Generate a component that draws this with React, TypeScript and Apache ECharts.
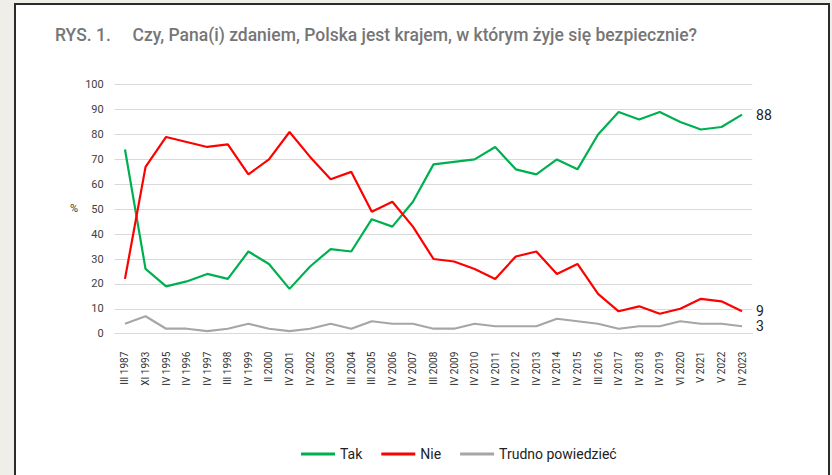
import React, { useEffect, useRef } from "react";
import * as echarts from "echarts";

const categories = [
  "III 1987", "XI 1993", "IV 1995", "IV 1996", "IV 1997", "III 1998", "IV 1999", "II 2000",
  "IV 2001", "IV 2002", "IV 2003", "III 2004", "III 2005", "IV 2006", "IV 2007", "III 2008",
  "IV 2009", "IV 2010", "IV 2011", "IV 2012", "IV 2013", "IV 2014", "IV 2015", "III 2016",
  "IV 2017", "IV 2018", "IV 2019", "VI 2020", "V 2021", "V 2022", "IV 2023",
];

const tak = [74, 26, 19, 21, 24, 22, 33, 28, 18, 27, 34, 33, 46, 43, 53, 68, 69, 70, 75, 66, 64, 70, 66, 80, 89, 86, 89, 85, 82, 83, 88];
const nie = [22, 67, 79, 77, 75, 76, 64, 70, 81, 71, 62, 65, 49, 53, 43, 30, 29, 26, 22, 31, 33, 24, 28, 16, 9, 11, 8, 10, 14, 13, 9];
const trudno = [4, 7, 2, 2, 1, 2, 4, 2, 1, 2, 4, 2, 5, 4, 4, 2, 2, 4, 3, 3, 3, 6, 5, 4, 2, 3, 3, 5, 4, 4, 3];

const seriesNames = ["Tak", "Nie", "Trudno powiedzieć"];
const seriesColors = ["#00b050", "#ff0000", "#a6a6a6"];
const titleText = "RYS. 1.     Czy, Pana(i) zdaniem, Polska jest krajem, w którym żyje się bezpiecznie?";

export default function App() {
  const ref = useRef<HTMLDivElement>(null);
  useEffect(() => {
    if (!ref.current) return;
    const chart = echarts.init(ref.current, null, { renderer: "svg" });
    const data = [tak, nie, trudno];
    chart.setOption({
      animation: false,
      backgroundColor: "#efeee9",
      textStyle: { fontFamily: "Roboto" },
      title: {
        text: titleText,
        left: 50,
        top: 21,
        textStyle: { fontFamily: "Roboto", fontSize: 17.5, fontWeight: 500, color: "#767676" },
      },
      graphic: [
        {
          type: "rect",
          z: -10,
          shape: { x: 15, y: 4, width: 814, height: 480 },
          style: { fill: "#ffffff", stroke: "#2b2b2b", lineWidth: 2 },
          silent: true,
        },
        {
          type: "text",
          x: 70,
          y: 203,
          style: { text: "%", fontSize: 11, fill: "#333333", fontFamily: "Roboto" },
        },
      ],
      legend: {
        data: seriesNames,
        bottom: 9,
        left: 296,
        icon: "rect",
        itemWidth: 34,
        itemHeight: 3,
        itemGap: 19,
        textStyle: { fontSize: 14, color: "#222222", fontFamily: "Roboto" },
      },
      grid: { left: 114.7, right: 79.7, top: 84.7, bottom: 141.3, containLabel: false },
      xAxis: {
        type: "category",
        data: categories,
        boundaryGap: true,
        axisLine: { show: true, lineStyle: { color: "#d9d9d9", width: 1 } },
        axisTick: { show: false },
        axisLabel: { rotate: 90, interval: 0, fontSize: 10, margin: 18, color: "#333333", fontFamily: "Roboto" },
      },
      yAxis: {
        type: "value",
        min: 0,
        max: 100,
        interval: 10,
        axisLine: { show: false },
        axisTick: { show: false },
        axisLabel: { fontSize: 11, color: "#404040", margin: 11, fontFamily: "Roboto" },
        splitLine: { lineStyle: { color: "#d9d9d9", width: 1 } },
      },
      series: seriesNames.map((name, i) => ({
        name,
        type: "line",
        data: data[i],
        symbol: "none",
        color: seriesColors[i],
        lineStyle: { color: seriesColors[i], width: 2.2 },
        endLabel: {
          show: true,
          formatter: "{c}",
          distance: 14,
          fontSize: 14,
          fontFamily: "Roboto",
          color: "#222222",
        },
      })),
    });
    return () => chart.dispose();
  }, []);
  return (
    <div
      ref={ref}
      style={{ position: "fixed", left: 0, top: 0, width: 832, height: 475 }}
    />
  );
}
